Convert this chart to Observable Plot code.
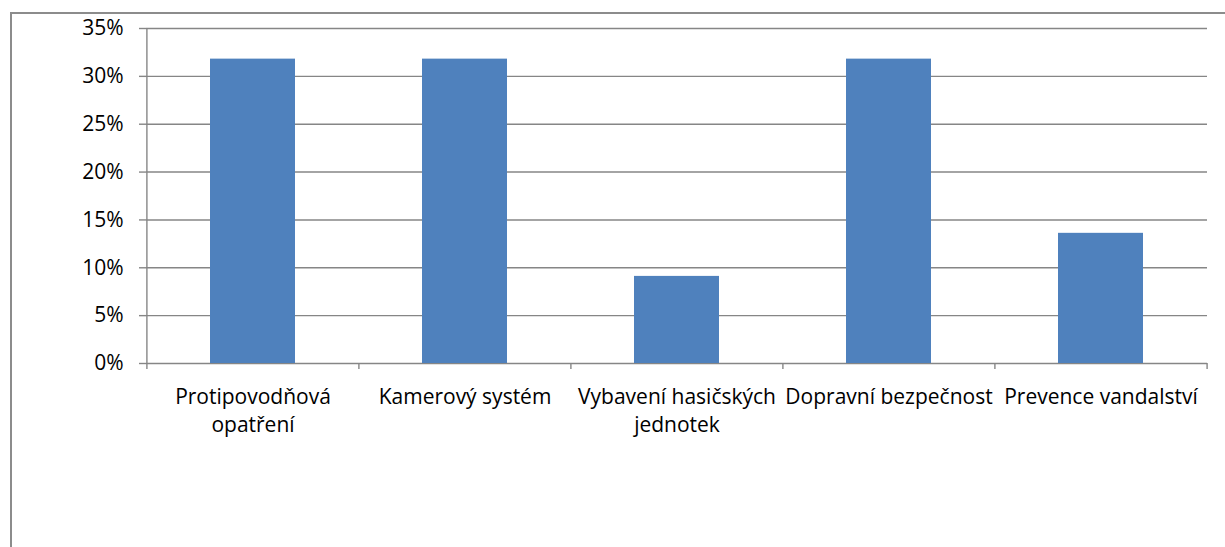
<!DOCTYPE html>
<html>
<head>
<meta charset="utf-8">
<script src="https://cdn.jsdelivr.net/npm/d3@7"></script>
<script src="https://cdn.jsdelivr.net/npm/@observablehq/plot@0.6"></script>
<style>
  html, body { margin: 0; padding: 0; background: #fff; width: 1225px; height: 547px; overflow: hidden; }
  #frame { position: absolute; left: 10px; top: 12px; width: 1400px; height: 700px;
           border-left: 2px solid #8c8c8c; border-top: 2px solid #8c8c8c; }
  #chart { position: absolute; left: 0; top: 0; }
</style>
</head>
<body>
<div id="frame"><div id="chart"></div></div>
<script>
// ---- data ----
const categories = ["Protipovodňová opatření", "Kamerový systém", "Vybavení hasičských jednotek", "Dopravní bezpečnost", "Prevence vandalství"];
const tickLabels = ["Protipovodňová\nopatření", "Kamerový systém", "Vybavení hasičských\njednotek", "Dopravní bezpečnost", "Prevence vandalství"];
const values = [0.318, 0.318, 0.091, 0.318, 0.136];
const yTicks = [0, 0.05, 0.10, 0.15, 0.20, 0.25, 0.30, 0.35];

// ---- layout ----
const W = 1213, H = 533;
const mL = 134, mR = 18, mT = 14, mB = 184;
const plotW = W - mL - mR, plotH = H - mT - mB;
const step = plotW / categories.length;
const grid = "#868686";

const data = categories.map((c, i) => ({category: c, value: values[i]}));
const boundaries = categories.map((c, i) => ({c, dx: -step / 2}))
  .concat([{c: categories[categories.length - 1], dx: step / 2}]);

const chart = Plot.plot({
  width: W,
  height: H,
  marginLeft: mL, marginRight: mR, marginTop: mT, marginBottom: mB,
  style: {fontFamily: "'Open Sans', sans-serif", fontSize: "21px", color: "#000", background: "transparent", overflow: "visible"},
  x: {domain: categories, paddingInner: 0.6, paddingOuter: 0.3, axis: null},
  y: {domain: [0, 0.35], axis: null},
  marks: [
    Plot.ruleY(yTicks, {stroke: grid, strokeWidth: 1.4}),
    Plot.barY(data, {x: "category", y: "value", fill: "#4F81BD"}),
    // vertical axis line
    Plot.ruleX([categories[0]], {x: d => d, dx: -step / 2, stroke: grid, strokeWidth: 1.4, insetBottom: -6}),
    // category boundary ticks
    ...boundaries.slice(1).map(b =>
      Plot.ruleX([b.c], {x: d => d, dx: b.dx, stroke: grid, strokeWidth: 1.4, insetTop: plotH, insetBottom: -6})
    ),
    Plot.axisY({ticks: yTicks, tickFormat: d3.format(".0%"), tickSize: 7, tickPadding: 16, stroke: grid, strokeWidth: 1.4, fill: "#000", fontSize: 21, label: null}),
    Plot.axisX({tickSize: 0, tickPadding: 21, tickFormat: d => tickLabels[categories.indexOf(d)], lineHeight: 1.333, fill: "#000", fontSize: 21, label: null})
  ]
});
document.getElementById("chart").appendChild(chart);
</script>
</body>
</html>
